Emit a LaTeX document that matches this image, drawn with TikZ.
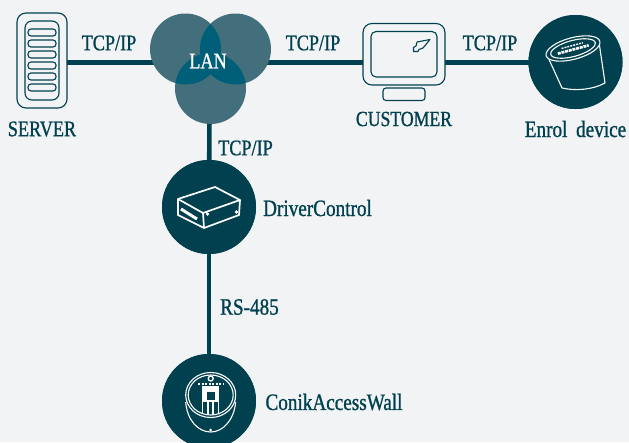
\documentclass[tikz,border=0pt]{standalone}
\usepackage{fontspec}
\setmainfont[FakeStretch=0.82,FakeBold=1]{Liberation Serif}
\definecolor{bg}{HTML}{F2F3F5}
\definecolor{deep}{HTML}{00404F}
\definecolor{lan}{HTML}{436F7C}
\definecolor{lanx}{HTML}{005F78}
\tikzset{
 x=1pt,y=-1pt,
 link/.style={draw=deep,line width=4.6pt},
 disc/.style={circle,fill=deep,minimum size=94pt,inner sep=0pt},
 lanc/.style={circle,fill=lan,minimum size=71pt,inner sep=0pt},
 lbl/.style={text=deep,font=\fontsize{22.2}{24}\selectfont,inner sep=0pt},
 lblb/.style={text=deep,font=\fontsize{23.4}{25}\selectfont,inner sep=0pt},
 lblc/.style={text=deep,font=\fontsize{21.6}{24}\selectfont,inner sep=0pt},
 out/.style={draw=deep,line width=1.1pt,rounded corners=#1},
 ico/.style={draw=white,line width=1.1pt,line join=round},
}
\begin{document}
\begin{tikzpicture}
\fill[bg] (0,0) rectangle (629,442);
\useasboundingbox (0,0) rectangle (629,442);
% nodes
\node[minimum width=50pt,minimum height=95pt,inner sep=0pt] (server) at (42,60.5) {};
\node[minimum width=82pt,minimum height=62pt,inner sep=0pt] (mon) at (404,54) {};
\node[disc] (enrol) at (575.5,62) {};
\node[disc] (driver) at (209,207) {};
\node[disc] (conik) at (209,401) {};
\coordinate (lanleft) at (155,62.5);
\coordinate (lanright) at (265,62.5);
\coordinate (lanbot) at (209.5,115);
\coordinate (serverr) at (server.east |- lanleft);
\coordinate (monl) at (mon.west |- lanleft);
\coordinate (monr) at (mon.east |- lanleft);
\coordinate (enroll) at (enrol.center |- lanleft);
% connectors
\draw[link] (serverr) -- (lanleft);
\draw[link] (lanright) -- (monl);
\draw[link] (monr) -- (enroll);
\draw[link] (lanbot) -- (driver);
\draw[link] (driver) -- (conik);
\node[disc] at (driver) {};
\node[disc] at (conik) {};
\node[disc] at (enrol) {};
% LAN circles
\node[lanc] (la) at (185.5,49) {};
\node[lanc] (lb) at (235.5,49) {};
\node[lanc] (lc) at (210.5,88.5) {};
\begin{scope}
\clip (185.5,49) circle (35.5);
\fill[lanx] (235.5,49) circle (35.5);
\end{scope}
\begin{scope}
\clip (185.5,49) circle (35.5);
\fill[lanx] (210.5,88.5) circle (35.5);
\end{scope}
\begin{scope}
\clip (235.5,49) circle (35.5);
\fill[lanx] (210.5,88.5) circle (35.5);
\end{scope}
% server icon
\draw[out=9pt] (17,13) rectangle (67,108);
\draw[out=7pt] (25,21) rectangle (59,100);
\foreach \y in {29,40,51,62,73,84}
  \draw[out=3pt] (28,\y) rectangle (56,\y+7);
% monitor icon
\draw[out=9pt,fill=bg] (363,23.5) rectangle (445,85);
\draw[out=5pt] (371,31.5) rectangle (437,77);
\draw[out=3pt] (383,88) rectangle (425,100.5);
\draw[deep,line width=1.1pt,line join=round] (430,39.5) -- (417,42) -- (416,46) -- (413.5,47.5) -- (413.5,51.5) -- (418,51.5) -- (419,49.5) -- (423,48) -- cycle;
% enrol icon
\begin{scope}[ico]
\draw (547,55) -- (562,88) .. controls (575,91) and (592,90) .. (605,83) -- (599,42);
\begin{scope}[rotate around={15:(573,48.5)}]
\fill[deep] (573,48.5) ellipse (27.8 and 10.8);
\draw (573,48.5) ellipse (27.8 and 10.8);
\draw (573,48.5) ellipse (23 and 8);
\draw[line width=2.6pt,dash pattern=on 3pt off 0.8pt] (557,49.5) -- (589,49.5);
\draw[line width=1.4pt,dash pattern=on 2pt off 1pt] (562,45.5) -- (584,45.5);
\end{scope}
\end{scope}
% driver icon
\begin{scope}[ico,line width=1.7pt]
\draw (215,187) -- (178,199) -- (178,215) -- (204,228) -- (239,215) -- (240,200) -- cycle;
\draw (178,199) -- (203,213) -- (240,200);
\draw (203,213) -- (204,228);
\draw[line width=3pt] (181,209) -- (197,219);
\fill[white] (207.5,214) circle (1.8);
\fill[white] (236.5,212) circle (1.8);
\end{scope}
% conik icon
\begin{scope}[ico]
\draw (210.7,395) ellipse (25 and 22.5);
\draw (210.7,395) ellipse (22.5 and 20);
\draw (185.7,402) .. controls (187,420) and (198,432) .. (210.7,432) .. controls (223,432) and (234,420) .. (235.7,402);
\fill[white] (202,386) rectangle (219,402);
\fill[deep] (207,392) rectangle (214.5,400);
\draw (202.5,402) -- (202.5,414) (208,402) -- (208,415) (213,402) -- (213,415) (218.5,402) -- (218.5,414);
\draw[line width=2.2pt,dash pattern=on 2pt off 1.5pt] (198,384) -- (223,384);
\draw[line width=1.4pt] (210.7,378.5) circle (2.5);
\fill[white] (210.7,430) circle (1.5);
\end{scope}
% labels
\node[lbl] (t1) at (109,43) {TCP/IP};
\node[lbl,text=white] (lanlbl) at (208,61) {LAN};
\node[lbl] (t2) at (313,43) {TCP/IP};
\node[lbl] (t3) at (490,43) {TCP/IP};
\node[lbl] (t4) at (245.5,148) {TCP/IP};
\node[lbl] (s) at (42,129) {SERVER};
\node[lblc] (c) at (404,119) {CUSTOMER};
\node[lblb] (e) at (575.5,129) {Enrol\, device};
\node[lblb] (d) at (317.5,208) {DriverControl};
\node[lblb] (r) at (249.5,307) {RS-485};
\node[lblb] (w) at (334,402) {ConikAccessWall};
\end{tikzpicture}
\end{document}
